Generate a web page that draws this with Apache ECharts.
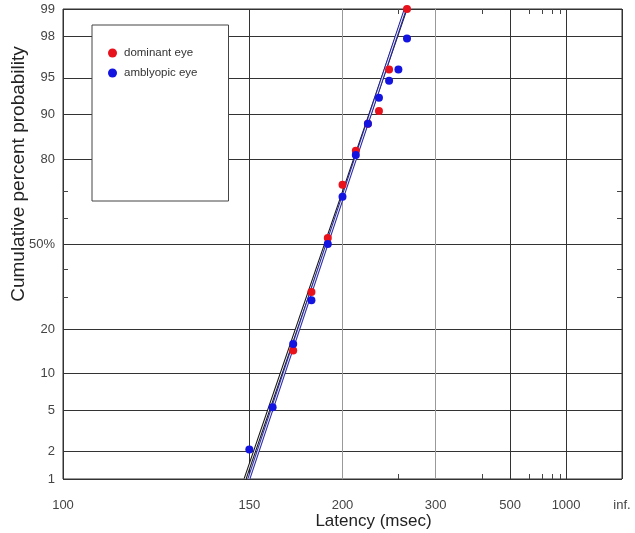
<!DOCTYPE html>
<html lang="en">
<head>
    <meta charset="UTF-8">
    <title>reciprobit latency</title>
    <script type="text/javascript" src="https://cdn.jsdelivr.net/npm/echarts@6/dist/echarts.min.js"></script>
    <style>html, body { margin: 0; padding: 0; background: #fff; }</style>
</head>
<body>
<div id="chart" style="width: 635px;height:533px;"></div>
<script type="text/javascript">
    // cumulative percentages per latency bin (ms)
    const domLatency = [170, 180, 190, 200, 210, 220, 230, 240, 260];
    const domPercent = [14.6, 31.7, 52.4, 72.1, 82.2, 88.3, 90.6, 95.8, 99];
    const ambLatency = [150, 160, 170, 180, 190, 200, 210, 220, 230, 240, 250, 260];
    const ambPercent = [2.1, 5.3, 16.1, 28.9, 50, 68, 81.1, 88.3, 92.6, 94.7, 95.8, 97.9];

    // fitted lines, end points
    const domFitLatency = [148.3, 258.8];
    const domFitPercent = [1, 99];
    const ambFitLatency = [149.8, 258];
    const ambFitPercent = [1, 99];

    // axis ticks
    const xDarkLatency = [100, 150, 500, 1000, Infinity];
    const xLightLatency = [200, 300];
    const xLabelLatency = [100, 150, 200, 300, 500, 1000, Infinity];
    const xMinorLatency = [250, 400, 600, 700, 800, 900];
    const yTickPercent = [1, 2, 5, 10, 20, 50, 80, 90, 95, 98, 99];
    const yTickLabels = ['1', '2', '5', '10', '20', '50%', '80', '90', '95', '98', '99'];
    const yMinorPercent = [30, 40, 60, 70];

    const FONT = 'Liberation Sans';

    // reciprocal latency, reversed so that long latencies go right
    function recip(ms) {
        return ms === Infinity ? 0 : -1000 / ms;
    }

    // inverse normal cdf (Acklam)
    function probit(p) {
        const a = [-3.969683028665376e+01, 2.209460984245205e+02, -2.759285104469687e+02, 1.383577518672690e+02, -3.066479806614716e+01, 2.506628277459239e+00];
        const b = [-5.447609879822406e+01, 1.615858368580409e+02, -1.556989798598866e+02, 6.680131188771972e+01, -1.328068155288572e+01];
        const c = [-7.784894002430293e-03, -3.223964580411365e-01, -2.400758277161838e+00, -2.549671010229583e+00, 4.374664141464968e+00, 2.938163982698783e+00];
        const d = [7.784695709041462e-03, 3.224671290700398e-01, 2.445134137142996e+00, 3.754408661907416e+00];
        const plow = 0.02425;
        let q, r;
        if (p < plow) {
            q = Math.sqrt(-2 * Math.log(p));
            return (((((c[0] * q + c[1]) * q + c[2]) * q + c[3]) * q + c[4]) * q + c[5]) / ((((d[0] * q + d[1]) * q + d[2]) * q + d[3]) * q + 1);
        }
        if (p > 1 - plow) {
            q = Math.sqrt(-2 * Math.log(1 - p));
            return -(((((c[0] * q + c[1]) * q + c[2]) * q + c[3]) * q + c[4]) * q + c[5]) / ((((d[0] * q + d[1]) * q + d[2]) * q + d[3]) * q + 1);
        }
        q = p - 0.5;
        r = q * q;
        return (((((a[0] * r + a[1]) * r + a[2]) * r + a[3]) * r + a[4]) * r + a[5]) * q / (((((b[0] * r + b[1]) * r + b[2]) * r + b[3]) * r + b[4]) * r + 1);
    }

    function toPoints(lat, pct) {
        return lat.map((l, i) => [recip(l), probit(pct[i] / 100)]);
    }

    const yMin = probit(0.01);
    const yMax = probit(0.99);
    const yTickVals = yTickPercent.map(p => probit(p / 100));

    function yLabel(v) {
        let best = 0;
        yTickVals.forEach((t, i) => {
            if (Math.abs(t - v) < Math.abs(yTickVals[best] - v)) best = i;
        });
        return yTickLabels[best];
    }

    function xAxisBase(extra) {
        return Object.assign({
            type: 'value',
            position: 'bottom',
            min: -10,
            max: 0,
            axisLine: {show: false, onZero: false},
            axisLabel: {show: false},
            axisTick: {show: false},
            splitLine: {show: false}
        }, extra);
    }

    function yAxisBase(extra) {
        return Object.assign({
            type: 'value',
            position: 'left',
            min: yMin,
            max: yMax,
            axisLine: {show: false, onZero: false},
            axisLabel: {show: false},
            axisTick: {show: false},
            splitLine: {show: false}
        }, extra);
    }

    const minorTick = (vals) => ({show: true, inside: true, length: 5, customValues: vals, lineStyle: {color: '#444', width: 1}});

    function fitSeries(name, pts, color) {
        return [{
            name: name, type: 'line', data: pts, symbol: 'none', silent: true, z: 3,
            lineStyle: {color: color, width: 3}
        }, {
            name: name, type: 'line', data: pts, symbol: 'none', silent: true, z: 3,
            lineStyle: {color: '#f2f2f2', width: 1}
        }];
    }

    let option = {
        animation: false,
        backgroundColor: '#fff',
        grid: {
            left: 63, right: 13, top: 9, bottom: 54,
            containLabel: false,
            outerBoundsMode: 'none',
            show: true, borderColor: '#333', borderWidth: 1, backgroundColor: 'transparent'
        },
        legend: {
            data: ['dominant eye', 'amblyopic eye'],
            orient: 'vertical',
            left: 92,
            top: 25,
            icon: 'circle',
            itemWidth: 9,
            itemHeight: 9,
            itemGap: 8,
            padding: [22, 31, 122, 16],
            backgroundColor: '#fff',
            borderColor: '#444',
            borderWidth: 1,
            textStyle: {fontSize: 11.5, color: '#333', fontFamily: FONT, padding: [0, 0, 0, 2]}
        },
        xAxis: [
            xAxisBase({
                name: 'Latency (msec)',
                nameLocation: 'middle',
                nameGap: 34,
                nameMoveOverlap: false,
                nameTextStyle: {fontSize: 17, color: '#222', fontFamily: FONT, padding: [0, 0, 0, 62]},
                axisLabel: {
                    show: true, margin: 20, fontSize: 13, color: '#444', fontFamily: FONT,
                    customValues: xLabelLatency.map(recip),
                    formatter: v => v === 0 ? 'inf.' : String(Math.round(-1000 / v))
                },
                axisTick: {show: false, customValues: xDarkLatency.map(recip)},
                splitLine: {show: true, lineStyle: {color: '#333', width: 1}}
            }),
            xAxisBase({
                axisTick: {show: false, customValues: xLightLatency.map(recip)},
                splitLine: {show: true, lineStyle: {color: '#999', width: 1}}
            }),
            xAxisBase({position: 'top', axisTick: minorTick(xMinorLatency.map(recip))}),
            xAxisBase({axisTick: minorTick(xMinorLatency.map(recip))})
        ],
        yAxis: [
            yAxisBase({
                name: 'Cumulative percent probability',
                nameLocation: 'middle',
                nameGap: 35,
                nameMoveOverlap: false,
                nameTextStyle: {fontSize: 19, color: '#222', fontFamily: FONT, padding: [0, 0, 0, 140]},
                axisLabel: {
                    show: true, margin: 8, fontSize: 13, color: '#444', fontFamily: FONT,
                    customValues: yTickVals,
                    formatter: v => yLabel(v)
                },
                axisTick: {show: false, customValues: yTickVals},
                splitLine: {show: true, lineStyle: {color: '#333', width: 1}}
            }),
            yAxisBase({axisTick: minorTick(yMinorPercent.map(p => probit(p / 100)))}),
            yAxisBase({position: 'right', axisTick: minorTick(yMinorPercent.map(p => probit(p / 100)))})
        ],
        series: [
            ...fitSeries('fit dominant', toPoints(domFitLatency, domFitPercent), '#141414'),
            ...fitSeries('fit amblyopic', toPoints(ambFitLatency, ambFitPercent), '#2a2aa8'),
            {
                name: 'dominant eye',
                type: 'scatter',
                symbol: 'circle',
                symbolSize: 8,
                z: 4,
                itemStyle: {color: '#e8121c', opacity: 1},
                data: toPoints(domLatency, domPercent)
            },
            {
                name: 'amblyopic eye',
                type: 'scatter',
                symbol: 'circle',
                symbolSize: 8,
                z: 5,
                itemStyle: {color: '#1414e0', opacity: 1},
                data: toPoints(ambLatency, ambPercent)
            }
        ]
    };
    echarts.init(document.getElementById('chart')).setOption(option);
</script>
</body>
</html>
